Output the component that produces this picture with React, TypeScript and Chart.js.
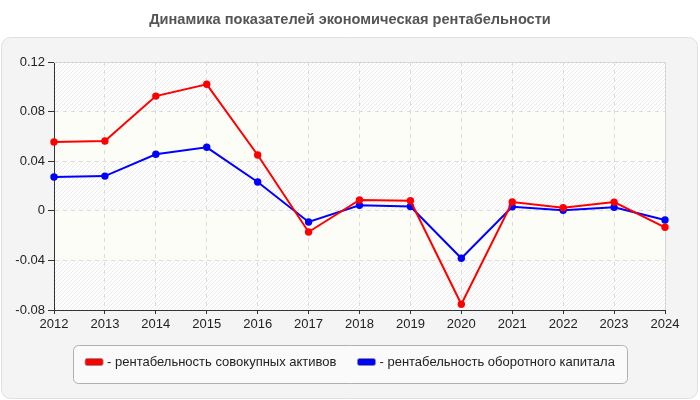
import { useEffect, useRef } from "react";
import { Chart, registerables, type Plugin } from "chart.js";

Chart.register(...registerables);

const TITLE = "Динамика показателей экономическая рентабельности";
const years = ["2012", "2013", "2014", "2015", "2016", "2017", "2018", "2019", "2020", "2021", "2022", "2023", "2024"];
const assetsLabel = "рентабельность совокупных активов";
const capitalLabel = "рентабельность оборотного капитала";
const assetsReturn = [0.0555, 0.0563, 0.0925, 0.102, 0.045, -0.0171, 0.0087, 0.0081, -0.0754, 0.0071, 0.0025, 0.007, -0.0133];
const capitalReturn = [0.0273, 0.028, 0.0456, 0.0512, 0.0232, -0.009, 0.0044, 0.0035, -0.0383, 0.0033, 0.0004, 0.0028, -0.0074];
const yTicks = [-0.08, -0.04, 0, 0.04, 0.08, 0.12];

const FONT = "'Liberation Sans', Arial, sans-serif";

function makeHatch(ctx: CanvasRenderingContext2D) {
  const c = document.createElement("canvas");
  c.width = 4;
  c.height = 4;
  const g = c.getContext("2d")!;
  g.strokeStyle = "#ebebeb";
  g.lineWidth = 1;
  g.beginPath();
  g.moveTo(0, 4);
  g.lineTo(4, 0);
  g.moveTo(-1, 1);
  g.lineTo(1, -1);
  g.moveTo(3, 5);
  g.lineTo(5, 3);
  g.stroke();
  return ctx.createPattern(c, "repeat")!;
}

const framePlugin: Plugin<"line"> = {
  id: "frame",
  beforeDraw(chart) {
    const { ctx, chartArea: a, scales } = chart;
    const y = scales.y;
    ctx.save();
    ctx.fillStyle = "#ffffff";
    ctx.fillRect(0, 0, chart.width, chart.height);

    // panel
    ctx.beginPath();
    ctx.roundRect(1.5, 37.5, 696, 361, 9);
    ctx.fillStyle = "#f4f4f4";
    ctx.fill();
    ctx.strokeStyle = "#e0e0e0";
    ctx.stroke();

    // title
    ctx.fillStyle = "#555555";
    ctx.font = `bold 14.6px ${FONT}`;
    ctx.textAlign = "center";
    ctx.textBaseline = "middle";
    ctx.fillText(TITLE, 350, 20);

    // plot bands
    ctx.fillStyle = "#ffffff";
    ctx.fillRect(a.left, a.top, a.width, a.height);
    const hatch = makeHatch(ctx);
    const sorted = [...yTicks].sort((p, q) => q - p);
    for (let i = 0; i < sorted.length - 1; i++) {
      const t = y.getPixelForValue(sorted[i]);
      const b = y.getPixelForValue(sorted[i + 1]);
      ctx.fillStyle = i % 2 === 0 ? hatch : "#fdfdf7";
      ctx.fillRect(a.left, t, a.width, b - t);
    }
    ctx.restore();
  },
  beforeDatasetsDraw(chart) {
    const { ctx, chartArea: a } = chart;
    ctx.save();
    ctx.strokeStyle = "#d6d6d6";
    ctx.lineWidth = 1;
    ctx.beginPath();
    ctx.moveTo(a.left, a.top + 0.5);
    ctx.lineTo(a.right + 0.5, a.top + 0.5);
    ctx.lineTo(a.right + 0.5, a.bottom);
    ctx.stroke();
    ctx.restore();
  },
  afterDraw(chart) {
    const { ctx } = chart;
    const sets = chart.data.datasets;
    ctx.save();
    ctx.font = `13px ${FONT}`;
    const sw = 18;
    const gap = 4;
    const itemGap = 21;
    const texts = sets.map((d) => "- " + d.label);
    const widths = texts.map((t) => sw + gap + ctx.measureText(t).width);
    const total = widths.reduce((s, w) => s + w, 0) + itemGap * (sets.length - 1);
    let x = 350 - total / 2;
    const pad = 12;

    ctx.beginPath();
    ctx.roundRect(Math.round(x - pad) + 0.5, 345.5, Math.round(total + 2 * pad), 38, 5);
    ctx.fillStyle = "#fafafa";
    ctx.fill();
    ctx.strokeStyle = "#b0b0b0";
    ctx.stroke();

    const cy = 362;
    sets.forEach((d, i) => {
      ctx.beginPath();
      ctx.roundRect(x, cy - 3.5, sw, 7, 2);
      ctx.fillStyle = d.borderColor as string;
      ctx.fill();
      ctx.strokeStyle = "#8a8a8a";
      ctx.lineWidth = 0.8;
      ctx.stroke();
      ctx.fillStyle = "#222222";
      ctx.textAlign = "left";
      ctx.textBaseline = "middle";
      ctx.fillText(texts[i], x + sw + gap, cy);
      x += widths[i] + itemGap;
    });
    ctx.restore();
  },
};

export default function App() {
  const canvasRef = useRef<HTMLCanvasElement>(null);
  const chartRef = useRef<Chart<"line"> | null>(null);

  useEffect(() => {
    document.body.style.margin = "0";
    if (!canvasRef.current) return;
    chartRef.current?.destroy();

    chartRef.current = new Chart(canvasRef.current, {
      type: "line",
      data: {
        labels: years,
        datasets: [
          {
            label: assetsLabel,
            data: assetsReturn,
            borderColor: "#ff0000",
            backgroundColor: "#ff0000",
            pointBackgroundColor: "#ff0000",
            borderWidth: 2,
            pointRadius: 3.7,
            pointBorderWidth: 0,
            tension: 0,
          },
          {
            label: capitalLabel,
            data: capitalReturn,
            borderColor: "#0000ff",
            backgroundColor: "#0000ff",
            pointBackgroundColor: "#0000ff",
            borderWidth: 2,
            pointRadius: 3.7,
            pointBorderWidth: 0,
            tension: 0,
          },
        ],
      },
      options: {
        responsive: true,
        maintainAspectRatio: false,
        animation: false,
        layout: { padding: { left: 12, right: 35, top: 62, bottom: 70 } },
        plugins: {
          legend: { display: false },
          title: { display: false },
          tooltip: { enabled: false },
        },
        scales: {
          x: {
            type: "category",
            offset: false,
            grid: { color: "#dcdcdc", tickColor: "#333", tickLength: 4 },
            border: { color: "#333", width: 1, dash: [4, 4] },
            ticks: {
              color: "#222",
              font: { family: FONT, size: 13 },
              padding: 3,
              maxRotation: 0,
              autoSkip: false,
            },
            afterFit: (s) => {
              s.height = 20;
            },
          },
          y: {
            min: -0.08,
            max: 0.12,
            grid: { color: "#dcdcdc", tickColor: "#333", tickLength: 6 },
            border: { color: "#333", width: 1, dash: [4, 4] },
            ticks: {
              color: "#222",
              font: { family: FONT, size: 13 },
              padding: 3,
              callback: (v) => String(Number(Number(v).toFixed(2))),
            },
            afterBuildTicks: (s) => {
              s.ticks = yTicks.map((v) => ({ value: v }));
            },
            afterFit: (s) => {
              s.width = 42;
            },
          },
        },
      },
      plugins: [framePlugin],
    });

    return () => {
      chartRef.current?.destroy();
      chartRef.current = null;
    };
  }, []);

  return (
    <div style={{ position: "relative", width: 700, height: 400 }}>
      <canvas ref={canvasRef} />
    </div>
  );
}
